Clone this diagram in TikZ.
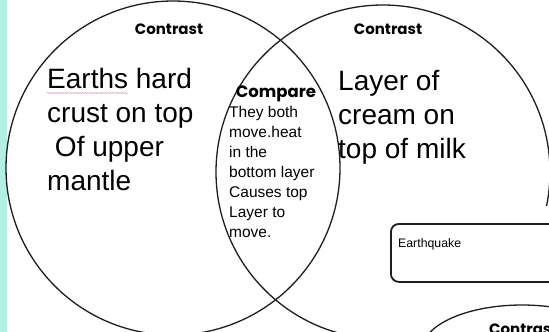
\documentclass[tikz,border=0pt]{standalone}
\usepackage{fontspec}
\setmainfont{Liberation Sans}
\newfontfamily\headfont{Poppins}
\usetikzlibrary{shapes.geometric,decorations.pathmorphing}
\definecolor{stripcol}{HTML}{B3EFE2}
\definecolor{linecol}{HTML}{1E1E1E}
\definecolor{squig}{HTML}{E89AA8}
\begin{document}
\begin{tikzpicture}[x=1pt,y=-1pt,
  ring/.style={circle, draw=linecol, line width=1.3pt, inner sep=0pt, minimum size=334pt},
  head/.style={font=\headfont\bfseries\fontsize{15}{17}\selectfont, inner sep=0pt},
  bigtext/.style={font=\fontsize{28}{34}\selectfont, align=left, inner sep=0pt, anchor=north west},
  smalltext/.style={font=\fontsize{15.5}{20}\selectfont, align=left, inner sep=0pt, anchor=north west},
  eqbox/.style={draw=linecol, line width=1.8pt, rounded corners=8pt, anchor=north west, minimum width=180pt, minimum height=58pt, inner sep=0pt}]
\useasboundingbox (0,0) rectangle (549,332);
\clip (0,0) rectangle (549,332);
\fill[white] (0,0) rectangle (549,332);
\fill[stripcol] (0,0) rectangle (7,332);
\node[ring] (L) at (173,168) {};
\node[ring] (R) at (383,172) {};
\fill[white] (380,206) rectangle (549,332);
\node[eqbox] (eq) at (390,223) {};
\node[anchor=base west, inner sep=0pt, font=\fontsize{12.3}{14}\selectfont] (eqt) at (398,247) {Earthquake};
\node[ellipse, draw=linecol, line width=1.3pt, minimum width=200pt, minimum height=90pt, inner sep=0pt] (B) at (522,350) {};
\node[head, anchor=west] (hb) at (489,329) {Contrast};
\node[head] (hl) at (169,29) {Contrast};
\node[head] (hr) at (388,29) {Contrast};
\node[head, font=\headfont\bfseries\fontsize{16.5}{19}\selectfont] (hc) at (276,94) {Compare};
\node[bigtext] (tl) at (47,68) {Earths hard\\crust on top\\\ Of upper\\mantle};
\node[bigtext] (tr) at (338,70) {Layer of\\cream on\\top of milk};
\node[smalltext] (tc) at (229,106) {They both\\move.heat\\in the\\bottom layer\\Causes top\\Layer to\\move.};
\draw[squig, line width=0.5pt, decorate, decoration={snake, amplitude=0.6pt, segment length=2.5pt}] (47,93) -- (128,93);
\end{tikzpicture}
\end{document}
